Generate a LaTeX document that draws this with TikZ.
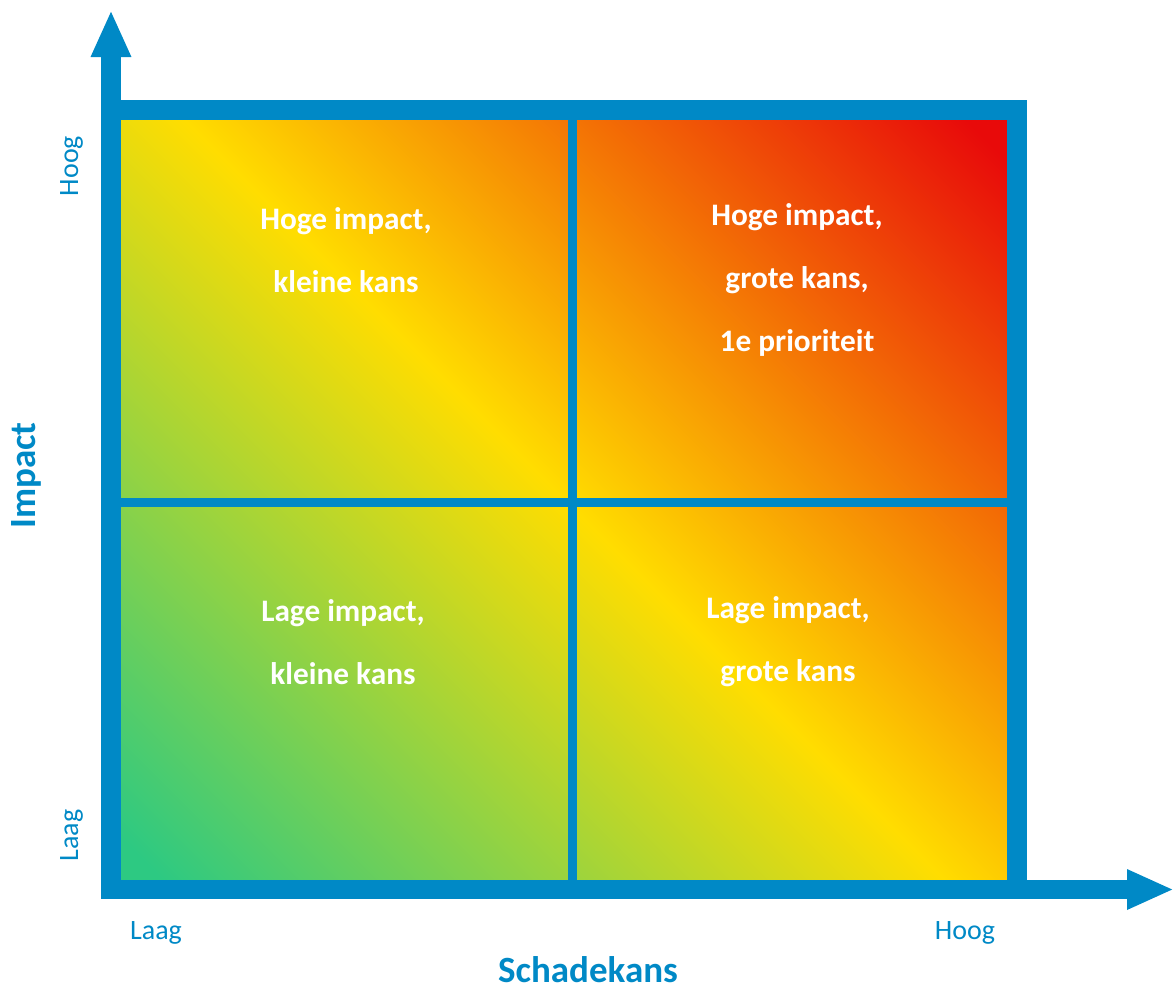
\documentclass[tikz,border=0pt]{standalone}
\usepackage{fontspec}
\setmainfont{Carlito}
\usetikzlibrary{arrows.meta}

\definecolor{asblauw}{RGB}{0,137,198}
\definecolor{risicogroen}{RGB}{45,201,130}
\definecolor{risicogeel}{RGB}{255,221,0}
\definecolor{risicorood}{RGB}{232,10,10}
\pgfdeclarehorizontalshading{risico}{100bp}{color(0bp)=(risicogroen); color(17bp)=(risicogroen); color(50bp)=(risicogeel); color(83bp)=(risicorood); color(100bp)=(risicorood)}

\begin{document}
\begin{tikzpicture}[x=1pt, y=-1pt,
    as/.style={draw=asblauw, line width=19.5pt, -{Triangle[length=47pt,width=37pt]}},
    kader/.style={draw=asblauw, line width=19.5pt},
    deellijn/.style={draw=asblauw, line width=9pt},
    kwadrant/.style={text=white, align=center, font=\fontsize{31.3}{63}\selectfont\bfseries},
    waarde/.style={text=asblauw, font=\fontsize{28}{34}\selectfont},
    astitel/.style={text=asblauw, font=\fontsize{37}{44}\selectfont\bfseries}]
    \useasboundingbox (0,0) rectangle (1174,989);

    \coordinate (oorsprong) at (111,889.5);
    \coordinate (hoek) at (1017,110);
    \coordinate (ytop) at (111,10);
    \coordinate (xeind) at (1174,889.5);
    \coordinate (midboven) at (572.5,110);
    \coordinate (midonder) at (572.5,889.5);
    \coordinate (midlinks) at (111,502.5);
    \coordinate (midrechts) at (1017,502.5);

    \fill[shading=risico, shading angle=45] (oorsprong) rectangle (hoek);
    \draw[deellijn] (midboven) -- (midonder);
    \draw[deellijn] (midlinks) -- (midrechts);
    \draw[kader] (oorsprong) rectangle (hoek);
    \draw[as] (oorsprong) -- (ytop);
    \draw[as] (oorsprong) -- (xeind);

    \node[kwadrant] (hogeklein) at (346,250.5) {Hoge impact,\\kleine kans};
    \node[kwadrant] (hogegroot) at (797,279.5) {Hoge impact,\\grote kans,\\1e prioriteit};
    \node[kwadrant] (lageklein) at (343,642.5) {Lage impact,\\kleine kans};
    \node[kwadrant] (lagegroot) at (788,641.5) {Lage impact,\\grote kans};

    \node[waarde, anchor=base] (xlaag) at (156,939) {Laag};
    \node[waarde, anchor=base] (xhoog) at (965,939) {Hoog};
    \node[astitel, anchor=base] (xtitel) at (588,982) {Schadekans};
    \node[waarde, anchor=base, rotate=90] (ylaag) at (78,835.5) {Laag};
    \node[waarde, anchor=base, rotate=90] (yhoog) at (78,166) {Hoog};
    \node[astitel, anchor=base, rotate=90] (ytitel) at (35,475.5) {Impact};
\end{tikzpicture}
\end{document}
